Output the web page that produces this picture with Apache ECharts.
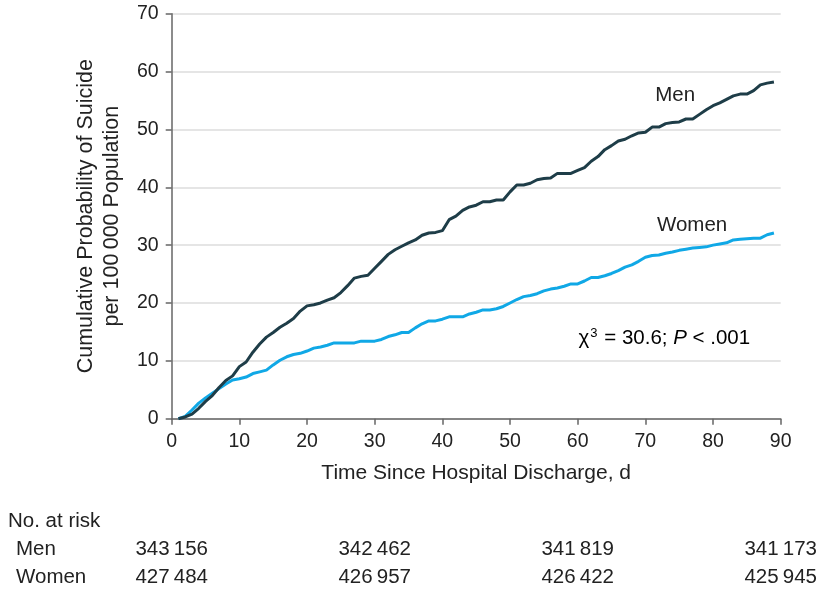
<!DOCTYPE html>
<html>
<head>
<meta charset="utf-8">
<script src="https://cdn.jsdelivr.net/npm/echarts@6/dist/echarts.min.js"></script>
<style>
html,body{margin:0;padding:0;background:#fff;}
#chart{width:823px;height:592px;}
</style>
</head>
<body>
<div id="chart"></div>
<script>
const days = [1,2,3,4,5,6,7,8,9,10,11,12,13,14,15,16,17,18,19,20,21,22,23,24,25,26,27,28,29,30,31,32,33,34,35,36,37,38,39,40,41,42,43,44,45,46,47,48,49,50,51,52,53,54,55,56,57,58,59,60,61,62,63,64,65,66,67,68,69,70,71,72,73,74,75,76,77,78,79,80,81,82,83,84,85,86,87,88,89];
const men = [0,0.3,0.8,1.8,3.0,4.0,5.4,6.6,7.4,9.0,9.8,11.5,12.9,14.1,14.9,15.8,16.5,17.3,18.6,19.5,19.7,20.0,20.5,20.9,21.8,23.0,24.3,24.6,24.8,26.0,27.2,28.4,29.2,29.8,30.4,30.9,31.7,32.1,32.2,32.5,34.4,35.0,36.0,36.6,36.9,37.5,37.5,37.8,37.8,39.2,40.4,40.4,40.7,41.3,41.5,41.6,42.4,42.4,42.4,42.9,43.4,44.5,45.3,46.5,47.2,48.0,48.3,48.9,49.4,49.5,50.4,50.4,51.0,51.2,51.3,51.8,51.8,52.6,53.4,54.1,54.6,55.2,55.8,56.1,56.1,56.7,57.7,58.0,58.2];
const women = [0,0.4,1.5,2.7,3.6,4.4,5.2,6.0,6.7,6.9,7.2,7.8,8.1,8.4,9.3,10.1,10.7,11.1,11.3,11.7,12.2,12.4,12.7,13.1,13.1,13.1,13.1,13.4,13.4,13.4,13.7,14.2,14.5,14.9,14.9,15.7,16.4,16.9,16.9,17.2,17.6,17.6,17.6,18.1,18.4,18.8,18.8,19.0,19.4,20.0,20.6,21.1,21.3,21.6,22.1,22.4,22.6,22.9,23.3,23.3,23.8,24.4,24.4,24.7,25.1,25.6,26.2,26.6,27.2,27.9,28.2,28.3,28.6,28.8,29.1,29.3,29.5,29.6,29.7,30.0,30.2,30.4,30.9,31.0,31.1,31.2,31.2,31.8,32.1];
const riskDays = [0, 30, 60, 90];
const riskMen = ['343\u2009156', '342\u2009462', '341\u2009819', '341\u2009173'];
const riskWomen = ['427\u2009484', '426\u2009957', '426\u2009422', '425\u2009945'];
const xTicks = [0,10,20,30,40,50,60,70,80,90];
const yTicks = [0,10,20,30,40,50,60,70];

const FONT = '"Liberation Sans", Arial, sans-serif';
const TXT = '#222';
const MEN_COLOR = '#1e3d48';
const WOMEN_COLOR = '#10a8e6';

const chart = echarts.init(document.getElementById('chart'), null, {renderer: 'canvas'});
const option = {
  animation: false,
  backgroundColor: '#fff',
  textStyle: {fontFamily: FONT},
  grid: {left: 171.7, right: 42.3, top: 13.7, bottom: 173.3, containLabel: false},
  xAxis: {
    type: 'value', min: xTicks[0], max: xTicks[xTicks.length-1], interval: 10,
    name: 'Time Since Hospital Discharge, d',
    nameLocation: 'middle', nameGap: 44,
    nameTextStyle: {fontFamily: FONT, fontSize: 21, color: TXT},
    axisLine: {show: true, lineStyle: {color: '#666', width: 1.5}},
    axisTick: {show: true, length: 6, lineStyle: {color: '#666', width: 1.5}},
    axisLabel: {fontFamily: FONT, fontSize: 19.5, color: TXT, margin: 13},
    splitLine: {show: false}
  },
  yAxis: {
    type: 'value', min: yTicks[0], max: yTicks[yTicks.length-1], interval: 10,
    name: 'Cumulative Probability of Suicide\nper 100\u2009000 Population',
    nameLocation: 'middle', nameGap: 47, nameRotate: 90,
    nameTextStyle: {fontFamily: FONT, fontSize: 21.5, color: TXT, lineHeight: 26, align: 'center'},
    axisLine: {show: true, lineStyle: {color: '#666', width: 1.5}},
    axisTick: {show: true, length: 6, lineStyle: {color: '#666', width: 1.5}},
    axisLabel: {fontFamily: FONT, fontSize: 19.5, color: TXT, margin: 13},
    splitLine: {show: true, lineStyle: {color: '#dcdcdc', width: 1.5}}
  },
  series: [
    {name: 'Men', type: 'line', showSymbol: false, symbol: 'none',
     data: days.map((d, i) => [d, men[i]]),
     lineStyle: {color: MEN_COLOR, width: 3}, z: 3},
    {name: 'Women', type: 'line', showSymbol: false, symbol: 'none',
     data: days.map((d, i) => [d, women[i]]),
     lineStyle: {color: WOMEN_COLOR, width: 3}, z: 2}
  ]
};
chart.setOption(option);

function px(x, y) { return chart.convertToPixel({gridIndex: 0}, [x, y]); }
const g = [];
const pMen = px(74.4, 55.9);
g.push({type: 'text', x: pMen[0], y: pMen[1], style: {text: 'Men', fontFamily: FONT, fontSize: 20.5, fill: TXT, align: 'center', verticalAlign: 'middle'}});
const pWomen = px(76.9, 33.5);
g.push({type: 'text', x: pWomen[0], y: pWomen[1], style: {text: 'Women', fontFamily: FONT, fontSize: 20.5, fill: TXT, align: 'center', verticalAlign: 'middle'}});
const pChi = px(72.8, 13.9);
g.push({type: 'text', x: pChi[0], y: pChi[1], style: {
  text: '{a|\u03C7}{s|3}{a| = 30.6; }{i|P}{a| < .001}',
  align: 'center', verticalAlign: 'middle',
  rich: {
    a: {fontFamily: FONT, fontSize: 20.5, color: TXT},
    i: {fontFamily: FONT, fontSize: 20.5, fontStyle: 'italic', color: TXT},
    s: {fontFamily: FONT, fontSize: 13, color: TXT, verticalAlign: 'top', padding: [0,1,10,1]}
  }
}});
g.push({type: 'text', x: 8, y: 521, style: {text: 'No. at risk', fontFamily: FONT, fontSize: 20.5, fill: TXT, align: 'left', verticalAlign: 'middle'}});
g.push({type: 'text', x: 16, y: 549, style: {text: 'Men', fontFamily: FONT, fontSize: 20.5, fill: TXT, align: 'left', verticalAlign: 'middle'}});
g.push({type: 'text', x: 16, y: 577, style: {text: 'Women', fontFamily: FONT, fontSize: 20.5, fill: TXT, align: 'left', verticalAlign: 'middle'}});
riskDays.forEach((d, i) => {
  const xp = chart.convertToPixel({xAxisIndex: 0}, d);
  g.push({type: 'text', x: xp, y: 549, style: {text: riskMen[i], fontFamily: FONT, fontSize: 20.5, fill: TXT, align: 'center', verticalAlign: 'middle'}});
  g.push({type: 'text', x: xp, y: 577, style: {text: riskWomen[i], fontFamily: FONT, fontSize: 20.5, fill: TXT, align: 'center', verticalAlign: 'middle'}});
});
chart.setOption({graphic: g});
</script>
</body>
</html>
